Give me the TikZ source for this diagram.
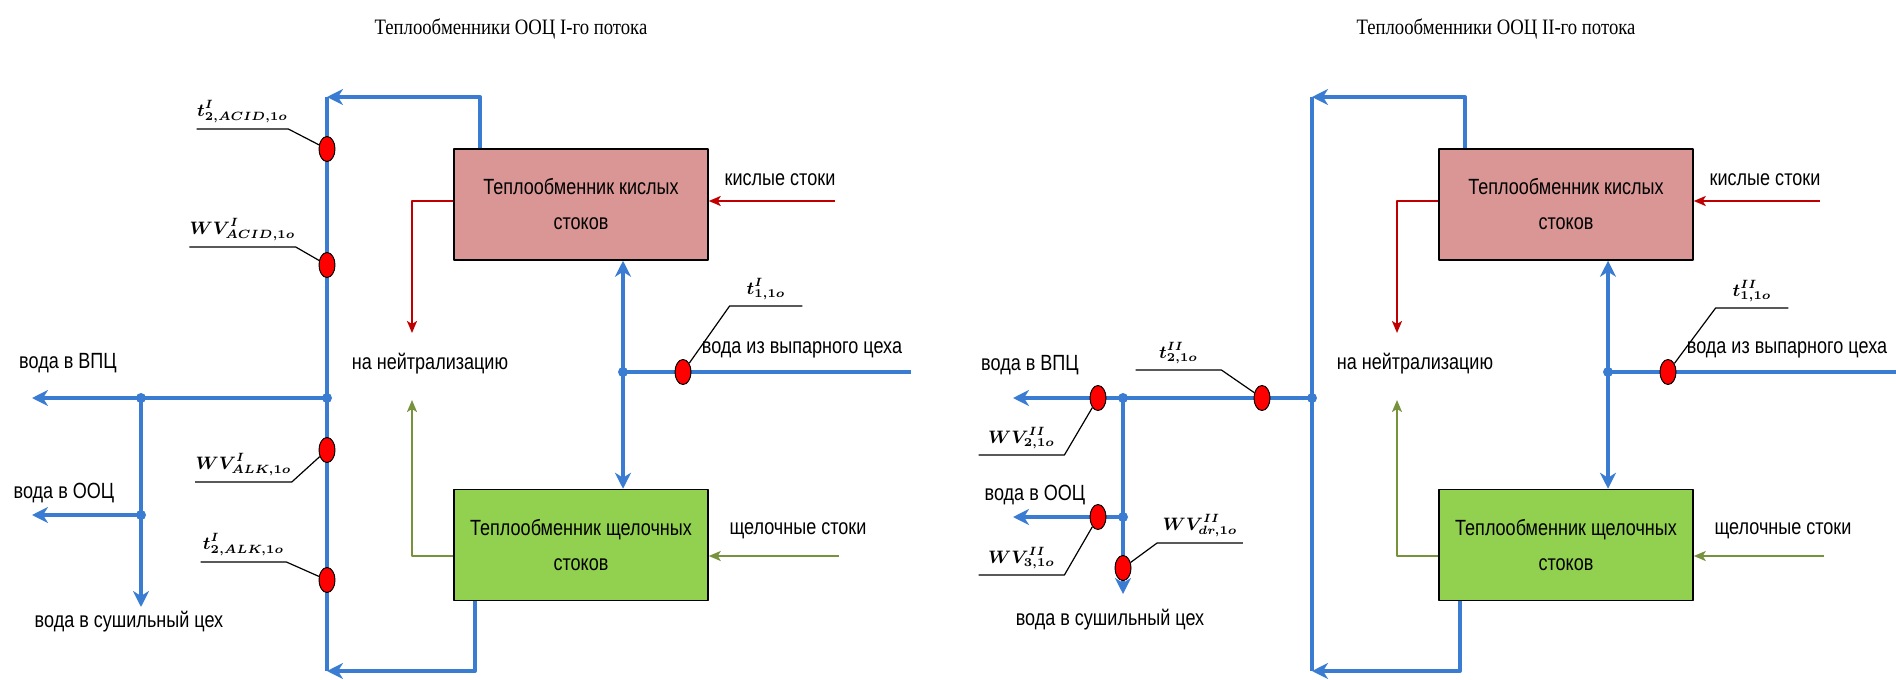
\documentclass[tikz,border=0pt]{standalone}
\usepackage{amsmath}
\usepackage{fontspec}
\setmainfont{Liberation Sans}[FakeStretch=0.82]
\newfontfamily\ttlfont{Liberation Serif}[FakeStretch=0.85]
\usepackage{tikz}
\usetikzlibrary{arrows.meta,calc,positioning,shapes.geometric}
\definecolor{pipec}{RGB}{58,124,210}
\definecolor{acidc}{RGB}{192,0,0}
\definecolor{alkc}{RGB}{118,146,60}
\definecolor{acidfill}{RGB}{217,150,148}
\definecolor{alkfill}{RGB}{146,208,80}

\begin{document}
\begin{tikzpicture}[x=0.5pt,y=-0.5pt,line join=round,
  pipe/.style={draw=pipec,line width=2pt,>={Stealth[length=8pt,width=8pt,inset=2.5pt]}},
  acidline/.style={draw=acidc,line width=1pt,>={Stealth[length=6pt,width=5pt,inset=1.5pt]}},
  alkline/.style={draw=alkc,line width=1pt,>={Stealth[length=6pt,width=5pt,inset=1.5pt]}},
  hx/.style={draw=black,line width=0.75pt,minimum width=127pt,minimum height=55.5pt,align=center,font=\fontsize{11}{17.5}\selectfont},
  lbl/.style={font=\fontsize{11}{13}\selectfont,inner sep=0pt},
  ttl/.style={font=\ttlfont\fontsize{11}{13}\selectfont,inner sep=0pt},
  sens/.style={ellipse,draw=black,fill=red,line width=0.5pt,minimum width=8pt,minimum height=12.5pt,inner sep=0pt},
  tag/.style={font=\fontsize{9}{10}\selectfont,anchor=south,inner xsep=0pt,inner ysep=3pt,minimum width=42.5pt},
  leader/.style={draw=black,line width=0.6pt}]
  \useasboundingbox (0,0) rectangle (1896,680);
  % the two exchanger blocks are the same, only shifted
  \foreach \dx/\p/\ttl in {0/a/I, 985/b/II} {
    \begin{scope}[shift={(\dx,0)}]
      \node[ttl] (title\p) at (511,29) {Теплообменники ООЦ \ttl-го потока};
      \node[hx,fill=acidfill] (acid\p) at (581,204.5) {Теплообменник кислых\\стоков};
      \node[hx,fill=alkfill] (alk\p) at (581,545) {Теплообменник щелочных\\стоков};
      \coordinate (topl\p) at (327,97); \coordinate (topr\p) at (480,97);
      \coordinate (botl\p) at (327,671); \coordinate (botr\p) at (475,671);
      \coordinate (jm\p) at (327,398); \coordinate (mid\p) at (623,372); \coordinate (win\p) at (911,372);
      \coordinate (acidin\p) at (835,201); \coordinate (alkin\p) at (839,556);
      \coordinate (nred\p) at (412,333); \coordinate (ngrn\p) at (412,400);
      \draw[pipe] (topl\p) -- (botl\p);
      \draw[pipe,->] (topr\p |- acid\p.north) -- (topr\p) -- (topl\p);
      \draw[pipe,->] (botr\p |- alk\p.south) -- (botr\p) -- (botl\p);
      \draw[pipe,<->] (mid\p |- acid\p.south) -- (mid\p |- alk\p.north);
      \draw[pipe] (win\p) -- (mid\p);
      \fill[pipec] (mid\p) circle (2.5pt); \fill[pipec] (jm\p) circle (2.5pt);
      \node[sens] (sw\p) at (683,372) {};
      \node[lbl] (wtext\p) at (802,350) {вода из выпарного цеха};
      \draw[acidline,->] (acidin\p) -- (acidin\p -| acid\p.east);
      \draw[acidline,->] (acid\p.west |- acidin\p) -| (nred\p);
      \draw[alkline,->] (alkin\p) -- (alkin\p -| alk\p.east);
      \draw[alkline,->] (alk\p.west |- alkin\p) -| (ngrn\p);
      \node[lbl] (acidtext\p) at (780,180) {кислые стоки};
      \node[lbl] (alktext\p) at (798,531) {щелочные стоки};
      \node[lbl] (neut\p) at (430,364) {на нейтрализацию};
    \end{scope} }
  \node[tag,minimum width=36pt] (tw1a) at (766,306) {$\boldsymbol{t^{I}_{1,1o}}$};
  \node[tag,minimum width=36pt] (tw1b) at (1752,308) {$\boldsymbol{t^{II}_{1,1o}}$};
  \draw[leader] (tw1a.south east) -- (tw1a.south west) -- (swa);
  \draw[leader] (tw1b.south east) -- (tw1b.south west) -- (swb);

  % first flow: outlets
  \coordinate (vpca) at (32,398); \coordinate (bra) at (141,398);
  \coordinate (oocj) at (141,515); \coordinate (oocend) at (32,515); \coordinate (dra) at (141,607);
  \draw[pipe,->] (jma) -- (vpca);
  \draw[pipe,->] (bra) -- (dra);
  \draw[pipe,->] (oocj) -- (oocend);
  \fill[pipec] (bra) circle (2.5pt); \fill[pipec] (oocj) circle (2.5pt);
  \node[lbl] (vpctxt) at (68,363) {вода в ВПЦ};
  \node[lbl] (ooctxt) at (64,493) {вода в ООЦ};
  \node[lbl] (drtxt) at (129,622) {вода в сушильный цех};
  \node[sens] (sta) at (327,149) {}; \node[sens] (swacid) at (327,265) {};
  \node[sens] (swalk) at (327,450) {}; \node[sens] (stk) at (327,580) {};
  \node[tag] (tga) at (242.5,129) {$\boldsymbol{t^{I}_{2,ACID,1o}}$};
  \node[tag] (tgwa) at (242.5,247) {$\boldsymbol{WV^{I}_{ACID,1o}}$};
  \node[tag] (tgwk) at (243.5,482) {$\boldsymbol{WV^{I}_{ALK,1o}}$};
  \node[tag] (tgk) at (243.5,562) {$\boldsymbol{t^{I}_{2,ALK,1o}}$};
  \draw[leader] (tga.south west) -- (tga.south east) -- (sta);
  \draw[leader] (tgwa.south west) -- (tgwa.south east) -- (swacid);
  \draw[leader] (tgwk.south west) -- (tgwk.south east) -- (swalk);
  \draw[leader] (tgk.south west) -- (tgk.south east) -- (stk);

  % second flow: outlets
  \coordinate (vpcb) at (1013,398); \coordinate (brb) at (1123,398);
  \coordinate (oocjb) at (1123,517); \coordinate (oocendb) at (1013,517); \coordinate (drb) at (1123,594);
  \draw[pipe,->] (jmb) -- (vpcb);
  \draw[pipe,->] (brb) -- (drb);
  \draw[pipe,->] (oocjb) -- (oocendb);
  \fill[pipec] (brb) circle (2.5pt); \fill[pipec] (oocjb) circle (2.5pt);
  \node[lbl] (vpctxtb) at (1030,365) {вода в ВПЦ};
  \node[lbl] (ooctxtb) at (1035,495) {вода в ООЦ};
  \node[lbl] (drtxtb) at (1110,620) {вода в сушильный цех};
  \node[sens] (st2b) at (1262,398) {}; \node[sens] (sw2b) at (1098,398) {};
  \node[sens] (sw3b) at (1098,517) {}; \node[sens] (swdr) at (1123,568) {};
  \node[tag] (tg2b) at (1178.5,370) {$\boldsymbol{t^{II}_{2,1o}}$};
  \node[tag] (tgw2b) at (1021.5,455) {$\boldsymbol{WV^{II}_{2,1o}}$};
  \node[tag] (tgw3b) at (1021.5,575) {$\boldsymbol{WV^{II}_{3,1o}}$};
  \node[tag] (tgdr) at (1200,543) {$\boldsymbol{WV^{II}_{dr,1o}}$};
  \draw[leader] (tg2b.south west) -- (tg2b.south east) -- (st2b);
  \draw[leader] (tgw2b.south west) -- (tgw2b.south east) -- (sw2b);
  \draw[leader] (tgw3b.south west) -- (tgw3b.south east) -- (sw3b);
  \draw[leader] (tgdr.south east) -- (tgdr.south west) -- (swdr);
\end{tikzpicture}
\end{document}
